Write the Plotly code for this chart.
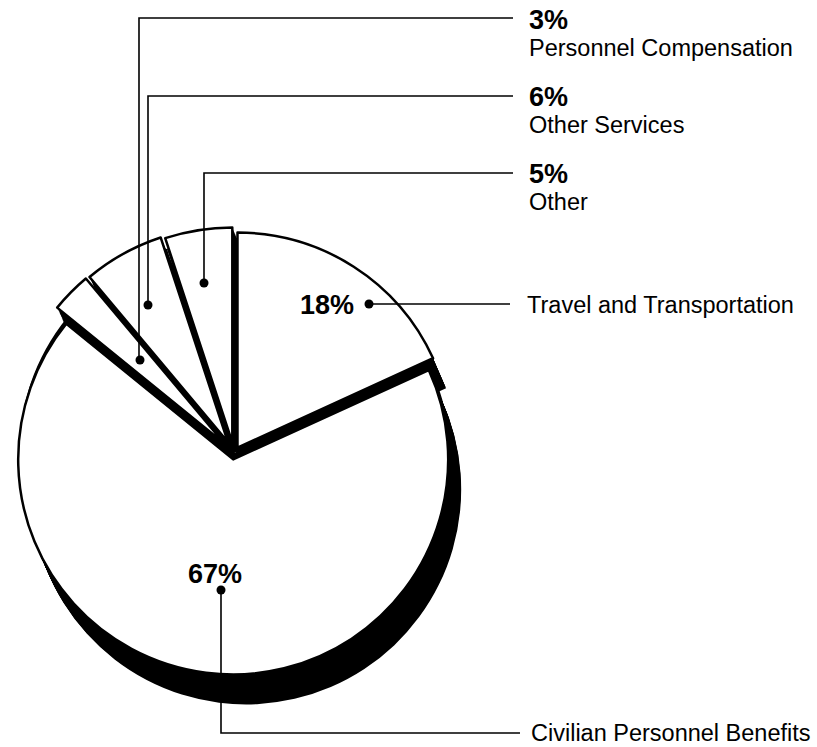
import plotly.graph_objects as go

W, H = 817, 747

# ---- data -------------------------------------------------------------
categories = [
    "Travel and Transportation",
    "Civilian Personnel Benefits",
    "Personnel Compensation",
    "Other Services",
    "Other",
]
shares = [18, 67, 3, 6, 5]

# ---- styling / placement (pixels) ---------------------------------------
slice_pull = [0.03, 0.03, 0.065, 0.06, 0.05]
pie_cx, pie_cy = 234, 453          # centre of the un-pulled disc
base_r = 215                       # radius of the un-pulled disc
depth_dx, depth_dy = 13, 30        # extrusion of the 3-D base
depth_steps = 26

PCT_FONT = dict(family="Liberation Sans, Arial, sans-serif", size=27, color="black")
NAME_FONT = dict(family="Liberation Sans, Arial, sans-serif", size=23.5, color="black")

# callout layout: percent label, name label, leader polyline
callouts = {
    "Travel and Transportation": dict(
        pct=(356, 305, "right"), name=(525, 305),
        leader=[(369, 304), (510, 304)]),
    "Civilian Personnel Benefits": dict(
        pct=(215, 574, "center"), name=(529, 733),
        leader=[(221, 590), (221, 733), (520, 733)]),
    "Personnel Compensation": dict(
        pct=(527, 20, "left"), name=(527, 48),
        leader=[(140, 360), (139, 358), (139, 18), (513, 18)]),
    "Other Services": dict(
        pct=(527, 97, "left"), name=(527, 125),
        leader=[(148, 305), (148, 96), (513, 96)]),
    "Other": dict(
        pct=(527, 174, "left"), name=(527, 202),
        leader=[(204, 283), (204, 173), (513, 173)]),
}


def px_x(x):
    return x / W


def px_y(y):
    return 1 - y / H


def pie_domain(cx, cy, half):
    return dict(x=[(cx - half) / W, (cx + half) / W],
                y=[1 - (cy + half) / H, 1 - (cy - half) / H])


common = dict(
    values=shares,
    labels=categories,
    sort=False,
    direction="clockwise",
    rotation=0,
    textinfo="none",
    hoverinfo="skip",
    showlegend=False,
)

max_pull = max(slice_pull)
outer_half = base_r * (1 + max_pull)

fig = go.Figure()

# solid black 3-D body: the pulled pie swept along the extrusion direction
for i in range(depth_steps, 0, -1):
    t = i / depth_steps
    fig.add_trace(go.Pie(
        **common,
        pull=slice_pull,
        domain=pie_domain(pie_cx + depth_dx * t, pie_cy + depth_dy * t, outer_half),
        marker=dict(colors=["black"] * len(shares), line=dict(width=0)),
    ))

# black core, un-pulled, so the gaps between the exploded slices read dark
fig.add_trace(go.Pie(
    **common,
    domain=pie_domain(pie_cx, pie_cy, base_r),
    marker=dict(colors=["black"] * len(shares), line=dict(width=0)),
))

# white top faces of the slices
fig.add_trace(go.Pie(
    **common,
    pull=slice_pull,
    domain=pie_domain(pie_cx, pie_cy, outer_half),
    marker=dict(colors=["white"] * len(shares), line=dict(color="black", width=2.5)),
))

shapes = []
annotations = []
for cat, val in zip(categories, shares):
    c = callouts[cat]
    pts = c["leader"]
    path = "M " + " L ".join(f"{px_x(x):.5f},{px_y(y):.5f}" for x, y in pts)
    shapes.append(dict(type="path", xref="paper", yref="paper", path=path,
                       line=dict(color="black", width=1.6)))
    dx, dy = pts[0]
    shapes.append(dict(type="circle", xref="paper", yref="paper",
                       x0=px_x(dx - 4.5), x1=px_x(dx + 4.5),
                       y0=px_y(dy + 4.5), y1=px_y(dy - 4.5),
                       fillcolor="black", line=dict(color="black", width=0)))
    px_, py_, anchor = c["pct"]
    annotations.append(dict(xref="paper", yref="paper", x=px_x(px_), y=px_y(py_),
                            text=f"<b>{val}%</b>", showarrow=False,
                            xanchor=anchor, yanchor="middle", font=PCT_FONT))
    nx, ny = c["name"]
    annotations.append(dict(xref="paper", yref="paper", x=px_x(nx), y=px_y(ny),
                            text=cat, showarrow=False,
                            xanchor="left", yanchor="middle", font=NAME_FONT))

fig.update_layout(
    width=W, height=H,
    margin=dict(l=0, r=0, t=0, b=0),
    paper_bgcolor="white",
    plot_bgcolor="white",
    shapes=shapes,
    annotations=annotations,
)

fig.write_html("out.html")
